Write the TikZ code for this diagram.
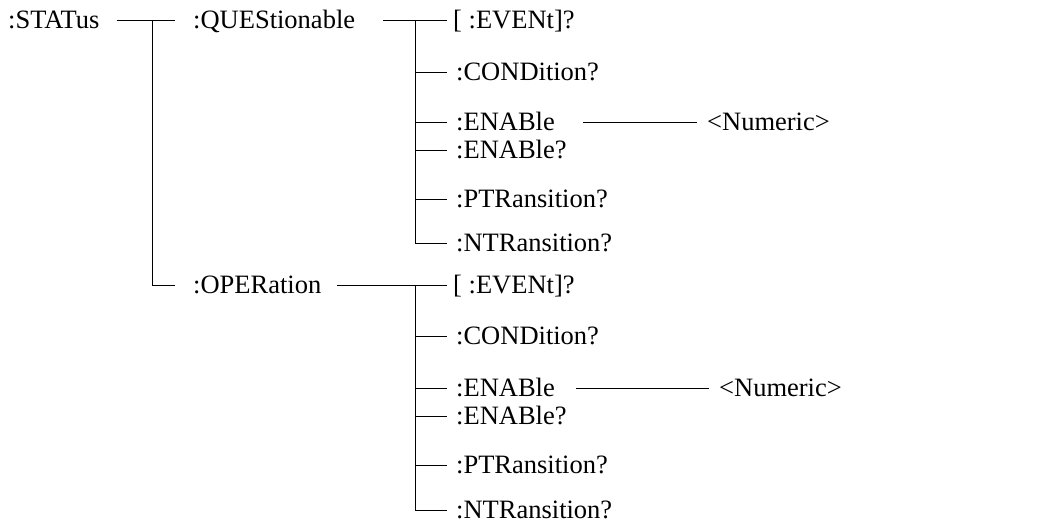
\documentclass[tikz,border=0pt]{standalone}
\usepackage{fontspec}
\setmainfont{Liberation Serif}
\usepackage{tikz}
\usetikzlibrary{positioning,calc}

\tikzset{
  cmd/.style={anchor=west,inner sep=0pt,text height=17.5pt,text depth=0pt,
    font=\fontsize{26.5}{30}\selectfont},
  wire/.style={draw=black,line width=0.9pt}
}

\begin{document}
\begin{tikzpicture}[x=1pt,y=-1pt]
      \useasboundingbox (0,0) rectangle (1053,524);
      % root and first level
      \node[cmd] (status) at (8,20) {:STATus};
      \node[cmd] (ques) at (193,20) {:QUEStionable};
      \node[cmd] (oper) at (193,285) {:OPERation};
      \coordinate (sbus) at (152,20);
      \coordinate (qbus) at (415,20);
      \coordinate (obus) at (415,285);
      % children of :QUEStionable
      \node[cmd] (q1) at (453,20) {[ :EVENt]?};
      \node[cmd] (q2) at (456,72) {:CONDition?};
      \node[cmd] (q3) at (456,122) {:ENABle};
      \node[cmd] (q4) at (456,150) {:ENABle?};
      \node[cmd] (q5) at (456,199) {:PTRansition?};
      \node[cmd] (q6) at (456,243) {:NTRansition?};
      \node[cmd] (qnum) at (707,122) {<Numeric>};
      % children of :OPERation
      \node[cmd] (o1) at (453,285) {[ :EVENt]?};
      \node[cmd] (o2) at (456,336) {:CONDition?};
      \node[cmd] (o3) at (456,388) {:ENABle};
      \node[cmd] (o4) at (456,416) {:ENABle?};
      \node[cmd] (o5) at (456,465) {:PTRansition?};
      \node[cmd] (o6) at (456,510) {:NTRansition?};
      \node[cmd] (onum) at (719,388) {<Numeric>};
      % connectors
      \draw[wire] ([xshift=17]status.east) -- ([xshift=-18]ques.west);
      \draw[wire] (sbus) |- ([xshift=-18]oper.west);
      \draw[wire] ([xshift=28]ques.east) -- ([xshift=-6]q1.west);
      \draw[wire] (qbus) |- ([xshift=-9]q6.west);
      \draw[wire] ([xshift=16]oper.east) -- ([xshift=-6]o1.west);
      \draw[wire] (obus) |- ([xshift=-9]o6.west);
      \foreach \k in {2,...,5} {
        \draw[wire] (qbus |- q\k.west) -- ([xshift=-9]q\k.west);
        \draw[wire] (obus |- o\k.west) -- ([xshift=-9]o\k.west);
      }
      \draw[wire] ([xshift=28]q3.east) -- ([xshift=-10]qnum.west);
      \draw[wire] ([xshift=21]o3.east) -- ([xshift=-10]onum.west);
    \end{tikzpicture}
\end{document}
